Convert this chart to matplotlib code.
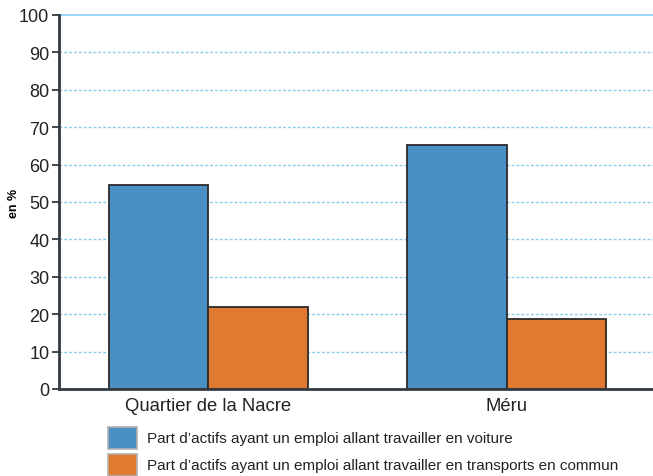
import matplotlib.pyplot as plt
from matplotlib.patches import Rectangle
import numpy as np

plt.rcParams["font.family"] = ["Liberation Sans", "DejaVu Sans"]

categories = ["Quartier de la Nacre", "Méru"]
voiture = [54.5, 65.2]
transports = [21.9, 18.7]
series_labels = [
    "Part d\u2019actifs ayant un emploi allant travailler en voiture",
    "Part d\u2019actifs ayant un emploi allant travailler en transports en commun",
]
yticks = list(range(0, 101, 10))

blue = "#4a90c4"
orange = "#e07a30"
dark = "#333a40"

W, H = 653, 477
fig = plt.figure(figsize=(W / 100, H / 100), dpi=100)
ax = fig.add_axes([0.0904, 0.1824, 0.9096, 0.7841])

x = np.arange(len(categories))
w = 0.334
ax.bar(x, voiture, width=-w, align="edge", color=blue,
       edgecolor="#2b2b2b", linewidth=1.3, zorder=3)
ax.bar(x, transports, width=w, align="edge", color=orange,
       edgecolor="#2b2b2b", linewidth=1.3, zorder=3)

ax.set_xlim(-0.5, 1.49)
ax.set_ylim(0, 100)
ax.set_yticks(yticks)
ax.set_yticklabels([str(t) for t in yticks], fontsize=13)
ax.set_xticks(x)
ax.set_xticklabels(categories, fontsize=13.3)
ax.tick_params(axis="x", length=0, pad=6, colors="#222222")
ax.tick_params(axis="y", length=5, width=1.3, color=dark, pad=2, labelcolor="#222222")

for t in yticks[1:-1]:
    ax.axhline(t, color="#86ccee", linewidth=1, linestyle=(0, (2, 1.5)), zorder=1)
ax.axhline(100, color="#8fd3f4", linewidth=1.3, zorder=1, clip_on=False)

for s in ["top", "right"]:
    ax.spines[s].set_visible(False)
ax.spines["left"].set_color(dark)
ax.spines["left"].set_linewidth(2)
ax.spines["bottom"].set_color(dark)
ax.spines["bottom"].set_linewidth(2)
ax.spines["bottom"].set_zorder(4)

fig.text(0.022, 0.574, "en %", rotation=90, fontsize=9, fontweight="bold",
         ha="center", va="center")

# legend drawn by hand below the axes
for i, (col, lab) in enumerate(zip([blue, orange], series_labels)):
    top = 428 + i * 27
    fig.patches.append(Rectangle((108 / W, 1 - (top + 22) / H), 29 / W, 22 / H,
                                 transform=fig.transFigure, facecolor=col,
                                 edgecolor="#b0b0b0", linewidth=1.2))
    fig.text(147 / W, 1 - (top + 11) / H, lab, fontsize=11, color="#222222",
             ha="left", va="center")

fig.savefig("out.png", dpi=100)
